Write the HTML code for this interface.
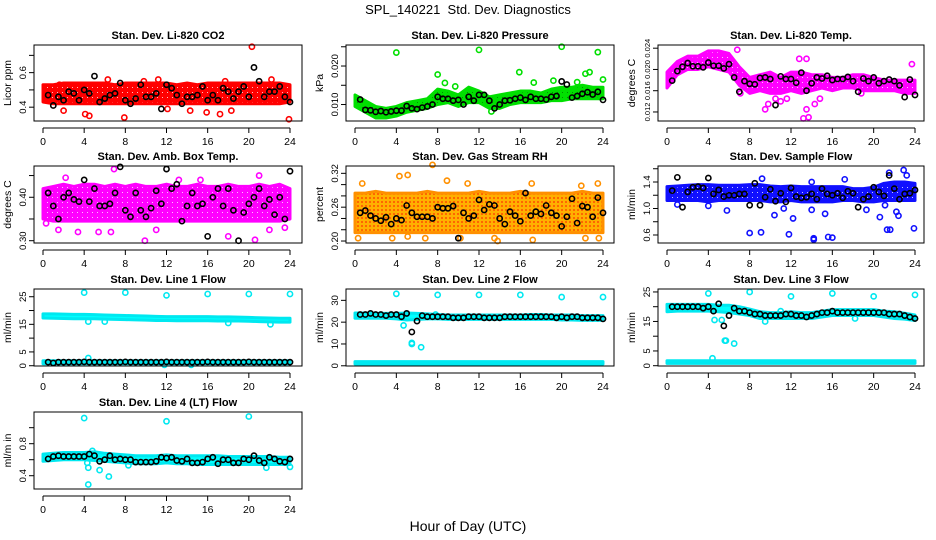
<!DOCTYPE html>
<html><head><meta charset="utf-8"><style>
html,body{margin:0;padding:0;background:#fff;}
svg{display:block;font-family:"Liberation Sans",sans-serif;}
</style></head><body>
<svg id="chart" width="936" height="540" viewBox="0 0 936 540" xmlns="http://www.w3.org/2000/svg">
<defs>
<pattern id="pt-red" width="5" height="5" patternUnits="userSpaceOnUse"><rect width="5" height="5" fill="#ff0000"/><circle cx="2.5" cy="2.5" r="0.5" fill="#fff"/></pattern>
<pattern id="pt-green" width="5" height="5" patternUnits="userSpaceOnUse"><rect width="5" height="5" fill="#00e000"/><circle cx="2.5" cy="2.5" r="0.5" fill="#000" opacity="0.5"/></pattern>
<pattern id="pt-magenta" width="5" height="5" patternUnits="userSpaceOnUse"><rect width="5" height="5" fill="#ff00ff"/><circle cx="2.5" cy="2.5" r="0.5" fill="#fff"/></pattern>
<pattern id="pt-orange" width="4" height="4" patternUnits="userSpaceOnUse"><rect width="4" height="4" fill="#ffb000"/><circle cx="2" cy="2" r="0.9" fill="#ff3000"/></pattern>
<pattern id="pt-blue" width="5" height="5" patternUnits="userSpaceOnUse"><rect width="5" height="5" fill="#1010ff"/><circle cx="2.5" cy="2.5" r="0.5" fill="#fff"/></pattern>
<pattern id="pt-cyan" width="5" height="5" patternUnits="userSpaceOnUse"><rect width="5" height="5" fill="#00ffff"/></pattern>
</defs>
<text x="468" y="14" font-size="13" text-anchor="middle">SPL_140221&#160; Std. Dev. Diagnostics</text>
<text x="468" y="531" font-size="14" text-anchor="middle">Hour of Day (UTC)</text>
</svg>
<script>
const hourGrid = [0,1,2,3,4,5,6,7,8,9,10,11,12,13,14,15,16,17,18,19,20,21,22,23,24];
const blackHours = [0.5,1,1.5,2,2.5,3,3.5,4, 4.5,5,5.5,6,6.5,7,7.5,8, 8.5,9,9.5,10,10.5,11,11.5,12, 12.5,13,13.5,14,14.5,15,15.5,16, 16.5,17,17.5,18,18.5,19,19.5,20, 20.5,21,21.5,22,22.5,23,23.5,24];
const xTicks = [0,4,8,12,16,20,24];

// Panel 1 CO2
const co2Lo = [0.43,0.42,0.42,0.42,0.42,0.42,0.42,0.42,0.42,0.42,0.42,0.42,0.42,0.42,0.42,0.42,0.42,0.42,0.42,0.42,0.42,0.42,0.42,0.42,0.43];
const co2Hi = [0.53,0.53,0.54,0.54,0.54,0.54,0.54,0.53,0.54,0.54,0.54,0.54,0.54,0.53,0.54,0.53,0.54,0.54,0.54,0.54,0.54,0.54,0.54,0.54,0.53];
const co2OutX = [20.3,23.9,7.9,4.5,4.1,6.3,11.2,17.7,22.2,1.6,9.8,15.9,17.2,18.3,14.3,12.4,23.3,2.0,12.1];
const co2OutY = [0.75,0.33,0.34,0.35,0.36,0.56,0.56,0.55,0.56,0.53,0.55,0.37,0.36,0.38,0.38,0.52,0.52,0.38,0.39];
const co2Black = [0.47,0.41,0.46,0.44,0.49,0.48,0.44,0.50, 0.48,0.58,0.43,0.45,0.47,0.48,0.54,0.44, 0.42,0.45,0.53,0.46,0.46,0.48,0.39,0.53, 0.51,0.47,0.42,0.46,0.46,0.47,0.52,0.44, 0.47,0.44,0.51,0.49,0.45,0.49,0.52,0.46, 0.63,0.55,0.46,0.49,0.49,0.52,0.46,0.43];

// Panel 2 Pressure
const presLo = [0.0095,0.008,0.0065,0.0065,0.007,0.008,0.0085,0.009,0.010,0.0105,0.0095,0.0105,0.0105,0.009,0.009,0.010,0.0105,0.0105,0.0105,0.011,0.011,0.0115,0.0115,0.0115,0.0115];
const presHi = [0.0125,0.011,0.0095,0.009,0.0095,0.0105,0.011,0.0115,0.014,0.0135,0.0125,0.0145,0.0135,0.012,0.0125,0.013,0.0135,0.0135,0.013,0.014,0.0145,0.0145,0.015,0.0145,0.0145];
const presOutX = [4.0,12.0,20.0,23.5,15.9,8.0,8.7,9.7,17.3,22.3,22.7,24.0,21.5,13.2,19.2];
const presOutY = [0.0235,0.0242,0.0250,0.0236,0.0184,0.0178,0.0156,0.0147,0.0157,0.0180,0.0184,0.0165,0.0158,0.0082,0.0162];
const presBlack = [0.0113,0.0086,0.0085,0.0081,0.0083,0.0080,0.0082,0.0084, 0.0084,0.0096,0.0090,0.0088,0.0092,0.0095,0.0100,0.0120, 0.0115,0.0115,0.0110,0.0112,0.0100,0.0120,0.0110,0.0125, 0.0125,0.0110,0.0090,0.0100,0.0110,0.0111,0.0115,0.0118, 0.0112,0.0120,0.0115,0.0115,0.0113,0.0120,0.0122,0.0160, 0.0152,0.0118,0.0122,0.0128,0.0132,0.0126,0.0133,0.0112];

// Panel 3 Li-820 Temp
const tempLo = [0.0165,0.019,0.020,0.020,0.0205,0.020,0.0195,0.017,0.0155,0.016,0.0155,0.0155,0.016,0.0155,0.016,0.0165,0.016,0.0165,0.0165,0.016,0.016,0.016,0.016,0.0155,0.0155];
const tempHi = [0.0195,0.0215,0.0225,0.0225,0.0235,0.0235,0.023,0.0205,0.0185,0.019,0.0195,0.0185,0.0195,0.0195,0.019,0.019,0.0185,0.0185,0.019,0.019,0.0185,0.018,0.018,0.018,0.018];
const tempOutX = [6.8,12.8,13.5,23.7,13.2,13.7,13.5,9.5,14.3,9.8,11.0,14.8,7.1,11.6,18.8,10.5];
const tempOutY = [0.0237,0.0220,0.0220,0.0210,0.0108,0.0110,0.0125,0.0125,0.0135,0.0135,0.0140,0.0145,0.0155,0.0145,0.0155,0.0145];
const tempBlack = [0.0179,0.0197,0.0205,0.0212,0.0206,0.0206,0.0204,0.0213, 0.0207,0.0207,0.0202,0.0210,0.0185,0.0158,0.0178,0.0173, 0.0172,0.0184,0.0185,0.0182,0.0133,0.0187,0.0182,0.0182, 0.0175,0.0194,0.0160,0.0174,0.0185,0.0183,0.0188,0.0180, 0.0182,0.0182,0.0186,0.0178,0.0158,0.0183,0.0178,0.0185, 0.0174,0.0178,0.0181,0.0178,0.0170,0.0148,0.0181,0.0152];

// Panel 4 Amb box temp
const ambLo = [0.35,0.345,0.345,0.345,0.345,0.345,0.345,0.345,0.345,0.345,0.345,0.345,0.345,0.345,0.345,0.345,0.345,0.345,0.345,0.345,0.345,0.345,0.345,0.345,0.35];
const ambHi = [0.42,0.425,0.43,0.425,0.43,0.43,0.425,0.43,0.425,0.43,0.425,0.425,0.43,0.425,0.425,0.43,0.425,0.425,0.43,0.425,0.425,0.43,0.425,0.43,0.42];
const ambOutX = [6.9,9.9,21.0,20.6,2.2,3.4,5.4,6.6,11.0,18.0,22.0,23.5,13.2,15.3,1.5,0.3];
const ambOutY = [0.465,0.30,0.45,0.302,0.445,0.32,0.32,0.32,0.325,0.31,0.325,0.33,0.44,0.44,0.325,0.34];
const ambBlack = [0.41,0.38,0.35,0.40,0.41,0.395,0.39,0.44, 0.39,0.42,0.38,0.38,0.385,0.41,0.47,0.37, 0.355,0.41,0.37,0.355,0.375,0.415,0.385,0.465, 0.42,0.43,0.345,0.38,0.41,0.38,0.385,0.31, 0.40,0.42,0.38,0.42,0.37,0.30,0.365,0.385, 0.40,0.42,0.38,0.395,0.36,0.40,0.35,0.46];

// Panel 5 Gas stream RH
const rhLo = [0.215,0.215,0.215,0.215,0.215,0.215,0.215,0.215,0.215,0.215,0.215,0.215,0.215,0.215,0.215,0.215,0.215,0.215,0.215,0.215,0.215,0.215,0.215,0.215,0.215];
const rhHi = [0.285,0.285,0.288,0.285,0.285,0.285,0.285,0.288,0.285,0.285,0.285,0.285,0.288,0.285,0.285,0.285,0.288,0.285,0.285,0.285,0.285,0.285,0.288,0.285,0.285];
const rhOutX = [7.5,4.3,5.1,0.7,8.9,10.9,17.1,23.5,0.3,3.6,5.1,6.8,10.2,13.5,13.8,17.2,22.3,23.6,21.9];
const rhOutY = [0.335,0.315,0.317,0.302,0.307,0.302,0.302,0.302,0.205,0.205,0.208,0.205,0.205,0.205,0.200,0.202,0.205,0.205,0.298];
const rhBlack = [0.25,0.254,0.245,0.24,0.236,0.242,0.23,0.24, 0.237,0.263,0.25,0.243,0.243,0.243,0.24,0.26, 0.258,0.258,0.262,0.205,0.25,0.24,0.245,0.273, 0.255,0.265,0.263,0.24,0.23,0.252,0.245,0.235, 0.285,0.245,0.252,0.248,0.263,0.25,0.245,0.226, 0.243,0.275,0.232,0.262,0.26,0.243,0.277,0.25];

// Panel 6 Sample flow
const sfLo = [1.12,1.12,1.12,1.12,1.10,1.12,1.12,1.12,1.12,1.12,1.10,1.10,1.12,1.10,1.10,1.10,1.10,1.12,1.12,1.10,1.10,1.12,1.12,1.12,1.12];
const sfHi = [1.33,1.34,1.35,1.36,1.36,1.35,1.35,1.35,1.36,1.36,1.34,1.33,1.34,1.33,1.33,1.33,1.33,1.33,1.30,1.30,1.32,1.38,1.40,1.40,1.38];
const sfOutX = [5.8,8.0,9.1,11.8,14.2,14.2,15.6,16.0,23.9,21.3,21.6,10.4,12.2,20.6,22.2,22.4,21.5,22.9,23.2,14.0,15.3,17.2,14.0,9.2,19.3,1.0,4.0,11.3,21.1];
const sfOutY = [0.97,0.63,0.64,0.61,0.55,0.53,0.57,0.56,0.70,0.68,0.68,0.90,0.85,0.87,0.95,0.89,1.54,1.58,1.50,0.98,0.92,1.44,1.40,1.45,0.98,1.06,1.04,1.00,1.05];
const sfBlack = [1.27,1.47,1.02,1.25,1.32,1.33,1.31,1.46, 1.22,1.28,1.18,1.20,1.20,1.22,1.22,1.05, 1.38,1.05,1.17,1.29,1.11,1.23,1.10,1.31, 1.18,1.16,1.17,1.22,1.14,1.30,1.22,1.20, 1.23,1.16,1.26,1.23,1.02,1.14,1.18,1.32, 1.25,1.19,1.50,1.30,1.14,1.22,1.23,1.28];

// Panel 7 Line 1 flow
const l1Lo = [17.3,17.2,17.1,17.0,17.0,17.0,16.9,16.8,16.7,16.6,16.5,16.4,16.4,16.3,16.3,16.3,16.3,16.2,16.2,16.2,16.1,16.0,15.9,15.8,15.8];
const l1Hi = [18.8,18.8,18.7,18.6,18.6,18.5,18.4,18.3,18.2,18.1,18.0,17.9,17.8,17.8,17.8,17.8,17.8,17.7,17.7,17.6,17.5,17.4,17.3,17.2,17.2];
const l1Lo2 = [0.7,0.7,0.7,0.7,0.7,0.7,0.7,0.7,0.7,0.7,0.7,0.7,0.7,0.7,0.7,0.7,0.7,0.7,0.7,0.7,0.7,0.7,0.7,0.7,0.7];
const l1Hi2 = [1.8,1.8,1.8,1.8,1.8,1.8,1.8,1.8,1.8,1.8,1.8,1.8,1.8,1.8,1.8,1.8,1.8,1.8,1.8,1.8,1.8,1.8,1.8,1.8,1.8];
const l1OutX = [4,8,12,16,20,24,4.4,4.4,6,18,22.1,11.8,14.4];
const l1OutY = [26.5,26.5,25.5,26,26,26,2.8,16,16,15.5,15,0.3,0.3];
const l1Black = [1.3,1.0,1.3,1.3,1.3,1.3,1.3,1.4, 1.3,1.3,1.3,1.3,1.3,1.3,1.3,1.4, 1.3,1.3,1.3,1.3,1.3,1.3,1.3,1.4, 1.3,1.3,1.3,1.3,1.3,1.3,1.3,1.4, 1.3,1.3,1.3,1.3,1.3,1.3,1.3,1.4, 1.3,1.3,1.3,1.3,1.3,1.3,1.3,1.3];

// Panel 8 Line 2 flow
const l2Lo = [21.8,21.8,21.8,21.8,21.5,21.0,21.2,21.5,21.5,21.3,21.2,21.3,21.3,21.3,21.3,21.3,21.3,21.3,21.3,21.3,21.0,21.0,20.8,20.8,20.8];
const l2Hi = [24.2,24.2,24.0,24.0,24.0,24.2,24.0,23.8,23.5,23.3,23.3,23.3,23.3,23.3,23.3,23.3,23.3,23.5,23.5,23.3,23.3,23.3,23.0,23.0,23.0];
const l2Lo2 = [0.8,0.8,0.8,0.8,0.8,0.8,0.8,0.8,0.8,0.8,0.8,0.8,0.8,0.8,0.8,0.8,0.8,0.8,0.8,0.8,0.8,0.8,0.8,0.8,0.8];
const l2Hi2 = [1.9,1.9,1.9,1.9,1.9,1.9,1.9,1.9,1.9,1.9,1.9,1.9,1.9,1.9,1.9,1.9,1.9,1.9,1.9,1.9,1.9,1.9,1.9,1.9,1.9];
const l2OutX = [4,8,12,16,20,24,5.5,5.5,6.4,4.7,7.8];
const l2OutY = [33,32.5,32.5,32.5,31.5,31.5,10.5,10,8.5,18.5,23.5];
const l2Black = [23.5,23.5,24,23.5,23.5,23,23.5,23.5, 22.5,24,15.5,20.5,23,22.5,22.5,22.5, 22.5,22.5,22,22,22,22.5,22.5,22.5, 22,22,22,22,22.5,22.5,22.5,22.5, 22.5,22.5,22.5,22.5,22.5,22.5,22,22.5, 22,22.5,22.5,22,22,22,22,21.5];

// Panel 9 Line 3 flow
const l3Lo = [18.3,18.5,18.5,18.5,18.5,18.3,18.0,17.5,17.0,16.0,16.0,16.0,16.0,16.0,16.0,16.5,17.0,17.0,17.0,17.0,17.0,16.5,16.0,15.8,15.3];
const l3Hi = [20.8,20.8,20.8,20.8,20.8,20.5,20.5,20.0,19.2,18.3,18.0,18.0,18.3,18.0,18.0,18.5,19.0,19.0,19.0,19.0,19.0,18.5,18.3,17.8,17.2];
const l3Lo2 = [0.8,0.8,0.8,0.8,0.8,0.8,0.8,0.8,0.8,0.8,0.8,0.8,0.8,0.8,0.8,0.8,0.8,0.8,0.8,0.8,0.8,0.8,0.8,0.8,0.8];
const l3Hi2 = [1.7,1.7,1.7,1.7,1.7,1.7,1.7,1.7,1.7,1.7,1.7,1.7,1.7,1.7,1.7,1.7,1.7,1.7,1.7,1.7,1.7,1.7,1.7,1.7,1.7];
const l3OutX = [4,8,12,16,20,24,4.4,4.6,5.3,5.6,5.7,6.5,9.5,18.2,11];
const l3OutY = [24.5,25,23.5,24.5,23.5,24,2.5,15.5,15.5,8.5,8.5,7.5,15,16,18.5];
const l3Black = [20,20,20,20,20,20,19.5,20, 18.5,21,13.5,17,19.5,18.5,18.5,18, 17.5,17.5,17,17,17,17,17.5,17.5, 17,17,16.5,17,17.5,18,18,18.5, 18,18,18,18,18,18,18,18, 18,18,17.5,17.5,17.5,17,16.5,16];

// Panel 10 Line 4 (LT) flow
const l4Lo = [0.58,0.59,0.60,0.60,0.60,0.59,0.58,0.57,0.56,0.55,0.55,0.55,0.56,0.55,0.55,0.54,0.54,0.54,0.54,0.54,0.54,0.54,0.54,0.54,0.54];
const l4Hi = [0.67,0.68,0.69,0.69,0.69,0.70,0.68,0.67,0.66,0.65,0.65,0.65,0.66,0.65,0.65,0.65,0.65,0.65,0.64,0.64,0.64,0.64,0.64,0.63,0.63];
const l4OutX = [4,12,20,4.4,4.4,5.5,6.4,8.3,21.7,24,4.3,4.8];
const l4OutY = [1.12,1.08,1.14,0.29,0.50,0.47,0.39,0.53,0.50,0.51,0.56,0.71];
const l4Black = [0.61,0.64,0.65,0.64,0.64,0.64,0.64,0.64, 0.67,0.65,0.58,0.60,0.65,0.60,0.61,0.60, 0.60,0.57,0.57,0.57,0.57,0.58,0.63,0.62, 0.63,0.59,0.58,0.61,0.56,0.56,0.57,0.61, 0.63,0.55,0.60,0.60,0.56,0.56,0.61,0.60, 0.65,0.59,0.56,0.63,0.61,0.58,0.57,0.61];

const svg = document.getElementById('chart');
const NS = 'http://www.w3.org/2000/svg';
function mk(tag, attrs, parent){ const e=document.createElementNS(NS,tag); for(const k in attrs) e.setAttribute(k,attrs[k]); (parent||svg).appendChild(e); return e; }

const cols = [{l:34,r:302,x0:43,x24:290},{l:346,r:614,x0:355,x24:603},{l:658,r:924,x0:667,x24:915}];
const rows = [{t:45,b:121},{t:166,b:243},{t:289,b:366},{t:412,b:489}];

const panels = [
 {name:'co2',title:'Stan. Dev. Li-820 CO2',ylab:'Licor ppm',c:0,r:0,ymin:0.32,ymax:0.76,ticks:[0.4,0.5,0.6,0.7],labels:['0.4',null,'0.6',null],color:'#ff0000',pat:'pt-red',bands:[[co2Lo,co2Hi]],ox:co2OutX,oy:co2OutY,blk:co2Black,fs:9.5},
 {name:'pressure',title:'Stan. Dev. Li-820 Pressure',ylab:'kPa',c:1,r:0,ymin:0.00572,ymax:0.02546,ticks:[0.010,0.015,0.020,0.025],labels:['0.010',null,'0.020',null],color:'#00e000',pat:'pt-green',bands:[[presLo,presHi]],ox:presOutX,oy:presOutY,blk:presBlack,fs:9.5},
 {name:'li820-temp',title:'Stan. Dev. Li-820 Temp.',ylab:'degrees C',c:2,r:0,ymin:0.0103,ymax:0.0246,ticks:[0.012,0.016,0.020,0.024],labels:['0.012','0.016','0.020','0.024'],color:'#ff00ff',pat:'pt-magenta',bands:[[tempLo,tempHi]],ox:tempOutX,oy:tempOutY,blk:tempBlack,fs:7.5},
 {name:'amb-temp',title:'Stan. Dev. Amb. Box Temp.',ylab:'degrees C',c:0,r:1,ymin:0.2947,ymax:0.472,ticks:[0.30,0.35,0.40,0.45],labels:['0.30',null,'0.40',null],color:'#ff00ff',pat:'pt-magenta',bands:[[ambLo,ambHi]],ox:ambOutX,oy:ambOutY,blk:ambBlack,fs:9.5},
 {name:'gas-rh',title:'Stan. Dev. Gas Stream RH',ylab:'percent',c:1,r:1,ymin:0.1965,ymax:0.333,ticks:[0.20,0.22,0.24,0.26,0.28,0.30,0.32],labels:['0.20',null,null,'0.26',null,null,'0.32'],color:'#ff9000',pat:'pt-orange',bands:[[rhLo,rhHi]],ox:rhOutX,oy:rhOutY,blk:rhBlack,fs:9.5},
 {name:'sample-flow',title:'Stan. Dev. Sample Flow',ylab:'ml/min',c:2,r:1,ymin:0.479,ymax:1.6415,ticks:[0.6,0.8,1.0,1.2,1.4,1.6],labels:['0.6',null,'1.0',null,'1.4',null],color:'#1010ff',pat:'pt-blue',bands:[[sfLo,sfHi]],ox:sfOutX,oy:sfOutY,blk:sfBlack,fs:9.5},
 {name:'line1-flow',title:'Stan. Dev. Line 1 Flow',ylab:'ml/min',c:0,r:2,ymin:-0.1,ymax:27.8,ticks:[0,5,10,15,20,25],labels:['0','5',null,'15',null,'25'],color:'#00e8f0',pat:'pt-cyan',bands:[[l1Lo,l1Hi],[l1Lo2,l1Hi2]],ox:l1OutX,oy:l1OutY,blk:l1Black,fs:9.5},
 {name:'line2-flow',title:'Stan. Dev. Line 2 Flow',ylab:'ml/min',c:1,r:2,ymin:-0.1,ymax:35.2,ticks:[0,10,20,30],labels:['0','10','20','30'],color:'#00e8f0',pat:'pt-cyan',bands:[[l2Lo,l2Hi],[l2Lo2,l2Hi2]],ox:l2OutX,oy:l2OutY,blk:l2Black,fs:9.5},
 {name:'line3-flow',title:'Stan. Dev. Line 3 Flow',ylab:'ml/min',c:2,r:2,ymin:-0.1,ymax:26.0,ticks:[0,5,10,15,20,25],labels:['0','5',null,'15',null,'25'],color:'#00e8f0',pat:'pt-cyan',bands:[[l3Lo,l3Hi],[l3Lo2,l3Hi2]],ox:l3OutX,oy:l3OutY,blk:l3Black,fs:9.5},
 {name:'line4-flow',title:'Stan. Dev. Line 4 (LT) Flow',ylab:'ml/m in',c:0,r:3,ymin:0.234,ymax:1.196,ticks:[0.4,0.6,0.8,1.0],labels:['0.4',null,'0.8',null],color:'#00e8f0',pat:'pt-cyan',bands:[[l4Lo,l4Hi]],ox:l4OutX,oy:l4OutY,blk:l4Black,fs:9.5}
];

panels.forEach(p=>{
  const C=cols[p.c], R=rows[p.r];
  const X = h => C.x0 + h/24*(C.x24-C.x0);
  const Y = v => R.t + (p.ymax-v)/(p.ymax-p.ymin)*(R.b-R.t);
  const g = mk('g',{});
  
  
  const clip = mk('clipPath',{id:'clip-'+p.name},g);
  mk('rect',{x:C.l,y:R.t-8,width:C.r-C.l,height:R.b-R.t+16},clip);
  const plot = mk('g',{'clip-path':'url(#clip-'+p.name+')'},g);
  p.bands.forEach((b,bi)=>{
    const lo=b[0], hi=b[1];
    let pts=[];
    hourGrid.forEach((h,i)=>pts.push(X(h)+','+Y(lo[i])));
    for(let i=hourGrid.length-1;i>=0;i--) pts.push(X(hourGrid[i])+','+Y(hi[i]));
    const poly = mk('polygon',{points:pts.join(' '),fill:'url(#'+p.pat+')',stroke:p.color,'stroke-width':3,'stroke-linejoin':'round'},plot);
    
    
  });
  p.ox.forEach((h,i)=>{
    const c = mk('circle',{cx:X(h),cy:Y(p.oy[i]),r:2.6,fill:'none',stroke:p.color,'stroke-width':1.6},plot);
    
    
  });
  p.blk.forEach((v,i)=>{
    const c = mk('circle',{cx:X(blackHours[i]),cy:Y(v),r:2.6,fill:'none',stroke:'#000','stroke-width':1.6},plot);
    
    
  });
  const box = mk('rect',{x:C.l,y:R.t,width:C.r-C.l,height:R.b-R.t,fill:'none',stroke:'#000','stroke-width':1},g);
  
  
  const t = mk('text',{x:(C.l+C.r)/2,y:R.t-6,'font-size':11,'font-weight':'bold','text-anchor':'middle'},g);
  t.textContent = p.title;
  
  
  const xa = mk('g',{},g);
  
  
  const ay = R.b+7;
  mk('line',{x1:X(0),x2:X(24),y1:ay,y2:ay,stroke:'#000'},xa);
  xTicks.forEach(h=>{
    mk('line',{x1:X(h),x2:X(h),y1:ay,y2:ay+5,stroke:'#000'},xa);
    const tt = mk('text',{x:X(h),y:ay+17,'font-size':10.5,'text-anchor':'middle'},xa);
    tt.textContent = h;
  });
  const ya = mk('g',{},g);
  
  
  p.ticks.forEach((v,i)=>{
    const y=Y(v);
    if(y<R.t-0.5||y>R.b+0.5) return;
    mk('line',{x1:C.l-5,x2:C.l,y1:y,y2:y,stroke:'#000'},ya);
    if(p.labels[i]){
      const tt = mk('text',{x:0,y:0,'font-size':p.fs,'text-anchor':'middle',transform:'translate('+(C.l-8)+','+y+') rotate(-90)'},ya);
      tt.textContent = p.labels[i];
    }
  });
  const yl = mk('text',{x:0,y:0,'font-size':10.5,'text-anchor':'middle',transform:'translate('+(C.l-23)+','+((R.t+R.b)/2)+') rotate(-90)'},g);
  yl.textContent = p.ylab;
  
  
});
</script>
</body></html>
